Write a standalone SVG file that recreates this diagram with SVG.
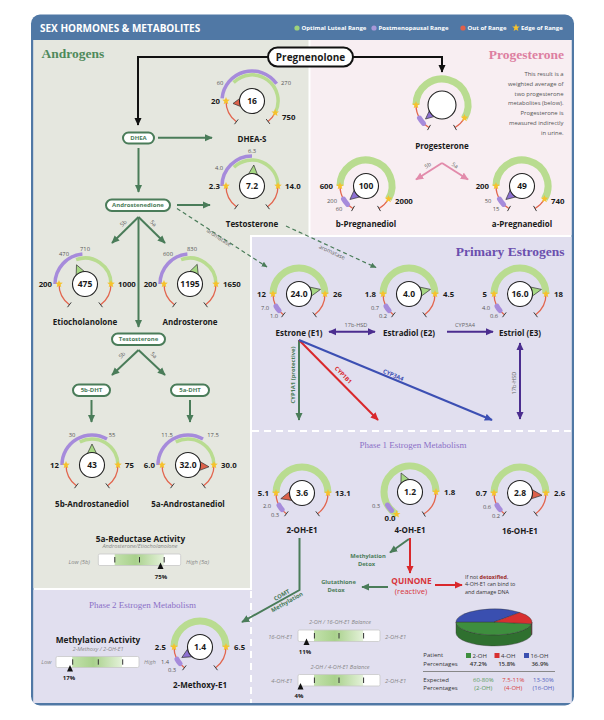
<svg xmlns="http://www.w3.org/2000/svg" width="604" height="720" viewBox="0 0 604 720">
<defs>
<style>
text{font-family:'Open Sans','Liberation Sans',sans-serif;fill:#1a1a1a}
.ttl{font-family:'Liberation Serif',serif;font-weight:bold}
.ph{font-family:'Liberation Serif',serif;font-size:9px;fill:#8b70c7;text-anchor:middle}
.g7{fill:none;stroke:#b9dc90;stroke-width:7}
.g4{fill:none;stroke:#b9dc90;stroke-width:3.5}
.p4{fill:none;stroke:#a68bdb;stroke-width:3.5}
.ps{fill:none;stroke:#a68bdb;stroke-width:5;stroke-linecap:round}
.rd{fill:none;stroke:#e2664f;stroke-width:1.3}
.tk{fill:none;stroke:#3a3a3a;stroke-width:1}
.vc{fill:#fff;stroke:#222;stroke-width:1.1}
.vt{font-size:8.5px;font-weight:bold;text-anchor:middle}
.nb{font-size:7.8px;font-weight:bold}
.e{text-anchor:end}
.ns{font-size:5.8px;fill:#555;text-anchor:middle}
.nm{font-size:8px;font-weight:bold;text-anchor:middle}
.tg{fill:#a6d883;stroke:#333;stroke-width:.7}
.tr{fill:#dc614a;stroke:#333;stroke-width:.7}
.tp{fill:#8d70d2;stroke:#333;stroke-width:.7}
.pill{fill:#fff;stroke:#4a7c59;stroke-width:2}
.pt{font-size:6px;font-weight:bold;fill:#4a7c59;text-anchor:middle}
.ck{fill:none;stroke:#111;stroke-width:2}
.cg{fill:none;stroke:#4a7c59;stroke-width:2}
.cd{fill:none;stroke:#4a7c59;stroke-width:1.2;stroke-dasharray:4,3}
.cp{fill:none;stroke:#e28bab;stroke-width:2}
.cv{fill:none;stroke:#4b2d8f;stroke-width:2}
.cr{fill:none;stroke:#d9282c;stroke-width:2}
.cb{fill:none;stroke:#3c4fb3;stroke-width:2}
.el{font-size:5.6px;fill:#666;text-anchor:middle}
.lb{font-size:5.8px;font-weight:bold;text-anchor:middle}
.bar{fill:url(#barg);stroke:#c8c8c8;stroke-width:.8}
.btk{stroke:#333;stroke-width:1}
.bt{font-size:8.3px;font-weight:bold;text-anchor:middle}
.bs{font-size:5.6px;font-style:italic;fill:#888;text-anchor:middle}
.bl{font-size:5.8px;font-style:italic;fill:#888}
.bp{font-size:6px;font-weight:bold;text-anchor:middle}
.lg{font-size:6px;font-weight:bold;fill:#fff}
.sm{font-size:6px;fill:#333}
</style>
<linearGradient id="barg" x1="0" x2="1" y1="0" y2="0">
<stop offset="0" stop-color="#fff"/><stop offset=".195" stop-color="#fff"/>
<stop offset=".2" stop-color="#c2e1ab"/><stop offset=".45" stop-color="#a9d18c"/>
<stop offset=".79" stop-color="#e3f1d8"/><stop offset=".8" stop-color="#fff"/><stop offset="1" stop-color="#fff"/>
</linearGradient>
<marker id="mk" viewBox="0 0 10 10" refX="9" refY="5" markerWidth="8" markerHeight="8" markerUnits="userSpaceOnUse" orient="auto-start-reverse"><path d="M0,0.5 L10,5 L0,9.5 Z" fill="#111"/></marker>
<marker id="mg" viewBox="0 0 10 10" refX="9" refY="5" markerWidth="8" markerHeight="8" markerUnits="userSpaceOnUse" orient="auto-start-reverse"><path d="M0,0.5 L10,5 L0,9.5 Z" fill="#4a7c59"/></marker>
<marker id="md" viewBox="0 0 10 10" refX="9" refY="5" markerWidth="6" markerHeight="6" markerUnits="userSpaceOnUse" orient="auto-start-reverse"><path d="M0,0.5 L10,5 L0,9.5 Z" fill="#4a7c59"/></marker>
<marker id="mp" viewBox="0 0 10 10" refX="9" refY="5" markerWidth="8" markerHeight="8" markerUnits="userSpaceOnUse" orient="auto-start-reverse"><path d="M0,0.5 L10,5 L0,9.5 Z" fill="#e28bab"/></marker>
<marker id="mv" viewBox="0 0 10 10" refX="9" refY="5" markerWidth="8" markerHeight="8" markerUnits="userSpaceOnUse" orient="auto-start-reverse"><path d="M0,0.5 L10,5 L0,9.5 Z" fill="#4b2d8f"/></marker>
<marker id="mr" viewBox="0 0 10 10" refX="9" refY="5" markerWidth="8" markerHeight="8" markerUnits="userSpaceOnUse" orient="auto-start-reverse"><path d="M0,0.5 L10,5 L0,9.5 Z" fill="#d9282c"/></marker>
<marker id="mb" viewBox="0 0 10 10" refX="9" refY="5" markerWidth="8" markerHeight="8" markerUnits="userSpaceOnUse" orient="auto-start-reverse"><path d="M0,0.5 L10,5 L0,9.5 Z" fill="#3c4fb3"/></marker>
<path id="star" d="M0,-4 L1,-1.38 L3.8,-1.24 L1.62,0.53 L2.35,3.24 L0,1.7 L-2.35,3.24 L-1.62,0.53 L-3.8,-1.24 L-1,-1.38 Z" fill="#f6c22c"/>
<g id="rS">
<path class="rd" d="M-26,0 A26,26 0 0 0 -15.6,20.8 M26,0 A26,26 0 0 1 15.6,20.8"/>
<path class="tk" d="M-13.8,18.4 L-17.5,23.2 M13.8,18.4 L17.5,23.2"/>
</g>
<g id="gE">
<path class="g7" d="M-26,0 A26,26 0 0 1 26,0"/>
<use href="#rS"/>
<path class="ps" d="M-23,12.2 A26,26 0 0 0 -19.9,16.7"/>
<use href="#star" x="-26" y="0"/><use href="#star" x="26" y="0"/>
</g>
<g id="gP">
<path class="g7" d="M-26,0 A26,26 0 1 1 22.5,13"/>
<path class="rd" d="M-26,0 A26,26 0 0 0 -13,22.5 M22.5,13 A26,26 0 0 1 13,22.5"/>
<path class="tk" d="M-11.5,19.9 L-14.5,25.1 M11.5,19.9 L14.5,25.1"/>
<path class="ps" d="M-22.5,13 A26,26 0 0 0 -18.4,18.4"/>
<use href="#star" x="-26" y="0"/><use href="#star" x="22.5" y="13"/>
</g>
</defs>

<!-- frame and panels -->
<rect x="31" y="14.5" width="543" height="691" rx="9" fill="#5078a5"/>
<rect x="33.5" y="40" width="538" height="663" fill="#fff"/>
<path fill="#e5e7df" d="M33.5,40 H308.5 V235 H250 V588 H33.5 Z"/>
<rect x="310.5" y="40" width="261" height="195" fill="#f8eef2"/>
<path fill="#e1dfef" d="M252,237 H571.5 V703 H33.5 V590 H252 Z"/>
<path d="M252,431 H571" stroke="#fff" stroke-width="2" stroke-dasharray="7,5" fill="none"/>
<path d="M251,591 V703" stroke="#fff" stroke-width="2" stroke-dasharray="7,5" fill="none"/>

<!-- header -->
<g id="header">
<text x="40" y="31.5" font-size="10" font-weight="bold" style="fill:#fff">SEX HORMONES &amp; METABOLITES</text>
<circle cx="297" cy="28" r="2.6" fill="#9fd27a"/><text class="lg" x="301.5" y="30.2">Optimal Luteal Range</text>
<circle cx="374" cy="28" r="2.6" fill="#a898d8"/><text class="lg" x="378.5" y="30.2">Postmenopausal Range</text>
<circle cx="463" cy="28" r="2.6" fill="#e0604a"/><text class="lg" x="467.5" y="30.2">Out of Range</text>
<use href="#star" x="516" y="27.8"/><text class="lg" x="521" y="30.2">Edge of Range</text>
</g>

<!-- section titles -->
<text class="ttl" x="41.5" y="58" font-size="13.5" style="fill:#4f8a5c">Androgens</text>
<text class="ttl" x="564" y="58.5" font-size="13.5" text-anchor="end" style="fill:#dd7fa1">Progesterone</text>
<text class="ttl" x="564.5" y="256" font-size="13.5" text-anchor="end" style="fill:#6b4fae">Primary Estrogens</text>
<text class="ph" x="413" y="447.5">Phase 1 Estrogen Metabolism</text>
<text class="ph" x="142.5" y="608">Phase 2 Estrogen Metabolism</text>

<g id="prog-note" font-size="5.9" text-anchor="end">
<text x="563.5" y="75.5" style="fill:#555">This result is a</text>
<text x="563.5" y="85.5" style="fill:#555">weighted average of</text>
<text x="563.5" y="95.5" style="fill:#555">two progesterone</text>
<text x="563.5" y="105" style="fill:#555">metabolites (below).</text>
<text x="563.5" y="115" style="fill:#555">Progesterone is</text>
<text x="563.5" y="125" style="fill:#555">measured indirectly</text>
<text x="563.5" y="135" style="fill:#555">in urine.</text>
</g>

<!-- connectors -->
<g id="connectors">
<path class="ck" d="M268,57 H138 V125" marker-end="url(#mk)"/>
<path class="ck" d="M353,57 H442 V72" marker-end="url(#mk)"/>
<path class="cg" d="M158,137.7 H212" marker-end="url(#mg)"/>
<path class="cg" d="M138.5,148 V192" marker-end="url(#mg)"/>
<path class="cg" d="M177,205 H210" marker-end="url(#mg)"/>
<path class="cg" d="M138.5,217 L112,243" marker-end="url(#mg)"/>
<path class="cg" d="M138.5,217 L165,243" marker-end="url(#mg)"/>
<path class="cg" d="M138.5,217 V327" marker-end="url(#mg)"/>
<path class="cg" d="M138.5,350 L112,375" marker-end="url(#mg)"/>
<path class="cg" d="M138.5,350 L165,375" marker-end="url(#mg)"/>
<path class="cg" d="M91.5,400 V422" marker-end="url(#mg)"/>
<path class="cg" d="M190,400 V422" marker-end="url(#mg)"/>
<path class="cd" d="M177,208.5 L267,267" marker-end="url(#md)"/>
<path class="cd" d="M286,226 L376,267.5" marker-end="url(#md)"/>
<path class="cp" d="M442,163 L416,179.5" marker-end="url(#mp)"/>
<path class="cp" d="M442,163 L468,179.5" marker-end="url(#mp)"/>
<path class="cv" d="M329,331.7 H375" marker-start="url(#mv)" marker-end="url(#mv)"/>
<path class="cv" d="M447,331.7 H493" marker-end="url(#mv)"/>
<path class="cv" d="M520,419 V343" marker-start="url(#mv)" marker-end="url(#mv)"/>
<path class="cg" d="M299,340 V420" marker-end="url(#mg)"/>
<path class="cr" d="M299,340 L378,420" marker-end="url(#mr)"/>
<path class="cb" d="M299,340 L492,420" marker-end="url(#mb)"/>
<path class="cg" d="M299.5,538 V590 L242,622" marker-end="url(#mg)"/>
<path class="cr" d="M410,538 V573" marker-end="url(#mr)"/>
<path class="cg" d="M409,539 L390,552.5" marker-end="url(#mg)"/>
<path class="cg" d="M388,587 H362" marker-end="url(#mg)"/>
<path class="cr" d="M435,585 H462" marker-end="url(#mr)"/>
<text class="el" transform="translate(123.3,223.3) rotate(-45)" y="2">5b</text>
<text class="el" transform="translate(153.5,223.3) rotate(45)" y="2">5a</text>
<text class="el" transform="translate(122,355) rotate(-45)" y="2">5b</text>
<text class="el" transform="translate(154,355) rotate(45)" y="2">5a</text>
<text class="el" transform="translate(427.7,165.3) rotate(-32)" y="2">5b</text>
<text class="el" transform="translate(455,165.3) rotate(32)" y="2">5a</text>
<text class="el" transform="translate(219,237.5) rotate(33)" y="2">aromatase</text>
<text class="el" transform="translate(332,252) rotate(25)" y="2">aromatase</text>
<text class="el" x="356" y="327">17b-HSD</text>
<text class="el" x="465" y="327">CYP3A4</text>
<text class="el" transform="translate(513.5,383) rotate(-90)" y="2">17b-HSD</text>
<text class="lb" transform="translate(292.5,375) rotate(-90)" y="2" font-size="5.5" style="fill:#4a7c59">CYP1A1 (protective)</text>
<text class="lb" transform="translate(343.3,375) rotate(45.4)" y="2" style="fill:#d9282c">CYP1B1</text>
<text class="lb" transform="translate(393.3,375) rotate(22.5)" y="2" style="fill:#3c4fb3">CYP3A4</text>
<text class="lb" transform="translate(281.7,595) rotate(-29.3)" y="2" style="fill:#4a7c59">COMT</text>
<text class="lb" transform="translate(287,602) rotate(-29.3)" y="2" style="fill:#4a7c59">Methylation</text>
</g>

<!-- nodes: pills -->
<g id="pregnenolone"><rect x="268" y="47.5" width="85" height="19" rx="9.5" fill="#fff" stroke="#111" stroke-width="2"/><text x="310.5" y="60.5" font-size="10" font-weight="bold" text-anchor="middle">Pregnenolone</text></g>
<g id="dhea"><rect class="pill" x="123" y="132.5" width="31" height="11" rx="5.5"/><text class="pt" x="138.5" y="140.2">DHEA</text></g>
<g id="androstenedione"><rect class="pill" x="106" y="199.5" width="64" height="11.5" rx="5.75"/><text class="pt" x="138" y="207.4">Androstenedione</text></g>
<g id="testosterone-pill"><rect class="pill" x="112" y="333.5" width="53" height="11.5" rx="5.75"/><text class="pt" x="138.5" y="341.3" font-size="5.5">Testosterone</text></g>
<g id="dht5b"><rect class="pill" x="73" y="384.5" width="37" height="11.5" rx="5.75"/><text class="pt" x="91.5" y="392.4">5b-DHT</text></g>
<g id="dht5a"><rect class="pill" x="171" y="384.5" width="38" height="11.5" rx="5.75"/><text class="pt" x="190" y="392.4">5a-DHT</text></g>

<!-- gauges -->
<g id="dheas" transform="translate(252,101)">
<path class="p4" d="M-29.9,-2.6 A30,30 0 0 1 24.6,-17.2"/>
<path class="g4" d="M-18.4,-18.4 A26,26 0 0 1 23.2,11.8"/>
<path class="rd" d="M-26,0 A26,26 0 0 0 -15.6,20.8 M23.2,11.8 A26,26 0 0 1 16,20.5"/>
<path class="tk" d="M-13.8,18.4 L-17.5,23.2 M14.2,18.1 L17.9,22.9"/>
<use href="#star" x="-26" y="0"/><use href="#star" x="23.2" y="11.8"/>
<polygon class="tr" points="-19,2.5 -6.7,7.4 -8.5,-5.3"/>
<circle class="vc" r="12.5"/><text class="vt" y="3">16</text>
<text class="ns" x="-32" y="-16">60</text><text class="ns" x="34" y="-16">270</text>
<text class="nb e" x="-32" y="3">20</text><text class="nb" x="30" y="19">750</text>
<text class="nm" y="41">DHEA-S</text>
</g>

<g id="testosterone" transform="translate(252,186)">
<path class="p4" d="M-30,0 A30,30 0 0 1 0,-30"/>
<path class="g4" d="M-18.1,-18.7 A26,26 0 0 1 26,0"/>
<use href="#rS"/>
<use href="#star" x="-26" y="0"/><use href="#star" x="26" y="0"/>
<polygon class="tg" points="1.8,-21 -5.7,-8.2 7.1,-7.1"/>
<circle class="vc" r="12.5"/><text class="vt" y="3">7.2</text>
<text class="ns" y="-33">6.3</text><text class="ns" x="-33" y="-16">4.0</text>
<text class="nb e" x="-32" y="3">2.3</text><text class="nb" x="33" y="3">14.0</text>
<text class="nm" y="41">Testosterone</text>
</g>

<g id="etiocholanolone" transform="translate(85,284)">
<path class="p4" d="M-30,0 A30,30 0 0 1 -2.6,-29.9"/>
<path class="g4" d="M-8.9,-24.4 A26,26 0 0 1 26,0"/>
<use href="#rS"/>
<use href="#star" x="-26" y="0"/><use href="#star" x="26" y="0"/>
<polygon class="tg" points="-8.5,-19.2 -9,-4.4 2.8,-9.6"/>
<circle class="vc" r="12.5"/><text class="vt" y="3">475</text>
<text class="ns" x="-21" y="-28">470</text><text class="ns" y="-33">710</text>
<text class="nb e" x="-33" y="3">200</text><text class="nb" x="33" y="3">1000</text>
<text class="nm" y="41">Etiocholanolone</text>
</g>

<g id="androsterone" transform="translate(190,284)">
<path class="p4" d="M-30,0 A30,30 0 0 1 -2.6,-29.9"/>
<path class="g4" d="M-8.9,-24.4 A26,26 0 0 1 26,0"/>
<use href="#rS"/>
<use href="#star" x="-26" y="0"/><use href="#star" x="26" y="0"/>
<polygon class="tg" points="7.2,-19.7 -3.4,-9.4 8.7,-5"/>
<circle class="vc" r="12.5"/><text class="vt" y="3">1195</text>
<text class="ns" x="-22" y="-28">600</text><text class="ns" x="2" y="-33">830</text>
<text class="nb e" x="-33" y="3">200</text><text class="nb" x="33" y="3">1650</text>
<text class="nm" y="41">Androsterone</text>
</g>

<g id="androstanediol5b" transform="translate(92,465)">
<path class="p4" d="M-30,0 A30,30 0 0 1 15,-26"/>
<path class="g4" d="M-12.2,-23 A26,26 0 0 1 26,0"/>
<use href="#rS"/>
<use href="#star" x="-26" y="0"/><use href="#star" x="26" y="0"/>
<polygon class="tg" points="0,-21 -6.4,-7.7 6.4,-7.7"/>
<circle class="vc" r="12.5"/><text class="vt" y="3">43</text>
<text class="ns" x="-20" y="-28">30</text><text class="ns" x="20" y="-28">55</text>
<text class="nb e" x="-33" y="3">12</text><text class="nb" x="33" y="3">75</text>
<text class="nm" y="42">5b-Androstanediol</text>
</g>

<g id="androstanediol5a" transform="translate(188,465)">
<path class="p4" d="M-30,0 A30,30 0 0 1 15,-26"/>
<path class="g4" d="M-12.2,-23 A26,26 0 0 1 26,0"/>
<use href="#rS"/>
<use href="#star" x="-26" y="0"/><use href="#star" x="26" y="0"/>
<polygon class="tr" points="21,1.8 8.2,-5.7 7.1,7.1"/>
<circle class="vc" r="12.5"/><text class="vt" y="3">32.0</text>
<text class="ns" x="-21" y="-28">11.5</text><text class="ns" x="25" y="-28">17.5</text>
<text class="nb e" x="-33" y="3">6.0</text><text class="nb" x="33" y="3">30.0</text>
<text class="nm" y="42">5a-Androstanediol</text>
</g>

<g id="progesterone" transform="translate(442,105)">
<use href="#gP"/>
<polygon class="tp" points="-16.5,14 -1.7,9.8 -10,0"/>
<circle class="vc" r="14"/>
<text class="nm" y="44">Progesterone</text>
</g>

<g id="bpregnanediol" transform="translate(366,186)">
<use href="#gP"/>
<polygon class="tp" points="-16.1,13.5 -1.7,9.8 -10,0"/>
<circle class="vc" r="12.5"/><text class="vt" y="3">100</text>
<text class="nb e" x="-33" y="3">600</text><text class="nb" x="29" y="18">2000</text>
<text class="ns" x="-34" y="16.5">200</text><text class="ns" x="-27" y="25">60</text>
<text class="nm" y="41">b-Pregnanediol</text>
</g>

<g id="apregnanediol" transform="translate(522,186)">
<use href="#gP"/>
<polygon class="tp" points="-16.1,13.5 -1.7,9.8 -10,0"/>
<circle class="vc" r="12.5"/><text class="vt" y="3">49</text>
<text class="nb e" x="-33" y="3">200</text><text class="nb" x="29" y="18">740</text>
<text class="ns" x="-34" y="16.5">50</text><text class="ns" x="-26" y="25">15</text>
<text class="nm" y="41">a-Pregnanediol</text>
</g>

<g id="estrone" transform="translate(299,294)">
<use href="#gE"/>
<polygon class="tg" points="21.5,-4.6 6.2,-7.9 8.8,4.7"/>
<circle class="vc" r="12.5"/><text class="vt" y="3">24.0</text>
<text class="nb e" x="-33" y="3">12</text><text class="nb" x="34" y="3">26</text>
<text class="ns" x="-34" y="15.5">7.0</text><text class="ns" x="-25" y="24">1.0</text>
<text class="nm" y="41.5">Estrone (E1)</text>
</g>

<g id="estradiol" transform="translate(409,294)">
<use href="#gE"/>
<polygon class="tg" points="21.5,-4.6 6.2,-7.9 8.8,4.7"/>
<circle class="vc" r="12.5"/><text class="vt" y="3">4.0</text>
<text class="nb e" x="-33" y="3">1.8</text><text class="nb" x="34" y="3">4.5</text>
<text class="ns" x="-34" y="15.5">0.7</text><text class="ns" x="-26" y="24">0.2</text>
<text class="nm" y="41.5">Estradiol (E2)</text>
</g>

<g id="estriol" transform="translate(520,294)">
<use href="#gE"/>
<polygon class="tg" points="21.5,-4.6 6.2,-7.9 8.8,4.7"/>
<circle class="vc" r="12.5"/><text class="vt" y="3">16.0</text>
<text class="nb e" x="-33" y="3">5</text><text class="nb" x="34" y="3">18</text>
<text class="ns" x="-34" y="15.5">4.0</text><text class="ns" x="-26" y="24">0.6</text>
<text class="nm" y="41.5">Estriol (E3)</text>
</g>

<g id="oh2e1" transform="translate(302,493)">
<use href="#gE"/>
<polygon class="tr" points="-21.2,5.7 -5.7,8.2 -9.1,-4.2"/>
<circle class="vc" r="12.5"/><text class="vt" y="3">3.6</text>
<text class="nb e" x="-33" y="3">5.1</text><text class="nb" x="33" y="3">13.1</text>
<text class="ns" x="-35" y="15">2.0</text><text class="ns" x="-27" y="24">0.3</text>
<text class="nm" y="40">2-OH-E1</text>
</g>

<g id="oh4e1" transform="translate(410,492)">
<path class="g7" d="M-13.4,22.3 A26,26 0 1 1 26,0"/>
<path class="rd" d="M26,0 A26,26 0 0 1 13.8,22"/>
<path class="tk" d="M12.2,19.5 L15.4,24.6"/>
<path class="ps" d="M-22.5,13 A26,26 0 0 0 -18.4,18.4"/>
<use href="#star" x="-13.4" y="22.3"/><use href="#star" x="26" y="0"/>
<polygon class="tg" points="-8.9,-19 -9.1,-4.2 2.6,-9.7"/>
<circle class="vc" r="12.5"/><text class="vt" y="3">1.2</text>
<text class="ns" x="-34" y="16">0.3</text><text class="nb" x="-20" y="29" text-anchor="middle">0.0</text>
<text class="nb" x="34" y="3">1.8</text>
<text class="nm" y="41">4-OH-E1</text>
</g>

<g id="oh16e1" transform="translate(520,493)">
<use href="#gE"/>
<polygon class="tr" points="22,2.3 8.3,-5.6 6.9,7.2"/>
<circle class="vc" r="12.5"/><text class="vt" y="3">2.8</text>
<text class="nb e" x="-33" y="3">0.7</text><text class="nb" x="34" y="3">2.6</text>
<text class="ns" x="-33" y="16">0.6</text><text class="ns" x="-24" y="25">0.2</text>
<text class="nm" y="40.5">16-OH-E1</text>
</g>

<g id="methoxy2e1" transform="translate(200,647)">
<use href="#gE"/>
<polygon class="tp" points="-18.2,10.5 -3.4,9.4 -9.8,-1.7"/>
<circle class="vc" r="12.5"/><text class="vt" y="3">1.4</text>
<text class="nb e" x="-34" y="3">2.5</text><text class="nb" x="34" y="3">6.5</text>
<text class="ns" x="-35" y="17">1.4</text><text class="ns" x="-28" y="25">0.3</text>
<text class="nm" y="41">2-Methoxy-E1</text>
</g>

<!-- phase 1 detox texts -->
<g id="detox">
<text class="lb" x="368" y="558" style="fill:#4a7c59">Methylation</text>
<text class="lb" x="366.5" y="566" style="fill:#4a7c59">Detox</text>
<text class="lb" x="338.5" y="584" style="fill:#4a7c59">Glutathione</text>
<text class="lb" x="336" y="591.5" style="fill:#4a7c59">Detox</text>
<text x="411.5" y="584" font-size="8.3" font-weight="bold" text-anchor="middle" style="fill:#d8343a">QUINONE</text>
<text x="411" y="594" font-size="7.6" text-anchor="middle" style="fill:#d8343a">(reactive)</text>
<text x="465" y="578.5" font-size="5.4" style="fill:#333">If not <tspan font-weight="bold" style="fill:#9a2a2a">detoxified</tspan>,</text>
<text x="465" y="586" font-size="5.4" style="fill:#333">4-OH-E1 can bind to</text>
<text x="465" y="593.5" font-size="5.4" style="fill:#333">and damage DNA</text>
</g>

<!-- bars -->
<g id="reductase">
<text class="bt" x="140.5" y="541.5">5a-Reductase Activity</text>
<text class="bs" x="140" y="548.4">Androsterone/Etiocholanolone</text>
<rect class="bar" x="98.3" y="554" width="82.4" height="11.5" rx="1.5"/>
<path class="btk" d="M114.8,557 V562.5 M139.5,557 V562.5 M164.2,557 V562.5"/>
<text class="bl e" x="90" y="563.5">Low (5b)</text>
<text class="bl" x="186" y="563.5">High (5a)</text>
<polygon points="160.5,562.5 157.5,569 163.5,569" fill="#111"/>
<text class="bp" x="161" y="578.5">75%</text>
</g>

<g id="methylation">
<text class="bt" x="98" y="643.3">Methylation Activity</text>
<text class="bs" x="98" y="650.8">2-Methoxy / 2-OH-E1</text>
<rect class="bar" x="56" y="656.5" width="83" height="11" rx="1.5"/>
<path class="btk" d="M72.7,659.3 V664.7 M98.3,659.3 V664.7 M122.7,659.3 V664.7"/>
<text class="bl e" x="51.5" y="664.3">Low</text>
<text class="bl" x="144" y="664.3">High</text>
<polygon points="70,665 67,671.5 73,671.5" fill="#111"/>
<text class="bp" x="69" y="679.5">17%</text>
</g>

<g id="balance16">
<text class="bs" x="340" y="624">2-OH / 16-OH-E1 Balance</text>
<rect class="bar" x="298" y="630" width="82" height="11.5" rx="1.5"/>
<path class="btk" d="M314.4,633 V638.5 M339,633 V638.5 M363.6,633 V638.5"/>
<text class="bl e" x="292.5" y="638.5">16-OH-E1</text>
<text class="bl" x="385" y="638.5">2-OH-E1</text>
<polygon points="306.5,638.5 303.5,645 309.5,645" fill="#111"/>
<text class="bp" x="305" y="654">11%</text>
</g>

<g id="balance4">
<text class="bs" x="340" y="668.7">2-OH / 4-OH-E1 Balance</text>
<rect class="bar" x="298" y="674.5" width="82" height="11.5" rx="1.5"/>
<path class="btk" d="M314.4,677.5 V683 M339,677.5 V683 M363.6,677.5 V683"/>
<text class="bl e" x="292.5" y="683">4-OH-E1</text>
<text class="bl" x="385" y="683">2-OH-E1</text>
<polygon points="300.5,683 297.5,689.5 303.5,689.5" fill="#111"/>
<text class="bp" x="299" y="698">4%</text>
</g>

<!-- pie -->
<g id="pie" stroke="#333" stroke-width=".4">
<path fill="#2f702f" d="M531.6,623.8 A38,13 0 0 1 456,622 L456,633 A38,13 0 0 0 531.6,634.8 Z"/>
<path fill="#a32222" d="M532,622 A38,13 0 0 1 531.6,623.8 L531.6,634.8 A38,13 0 0 0 532,633 Z"/>
<path fill="#3e8e3e" d="M494,622 L531.6,623.8 A38,13 0 0 1 456,622 Z"/>
<path fill="#3a4fb0" d="M494,622 L456,622 A38,13 0 0 1 519.9,612.5 Z"/>
<path fill="#d83030" d="M494,622 L519.9,612.5 A38,13 0 0 1 531.6,623.8 Z"/>
</g>

<g id="pie-legend">
<text class="sm" x="423.3" y="657">Patient</text>
<text class="sm" x="423.3" y="665.5">Percentages</text>
<rect x="466" y="653" width="5" height="5" fill="#3e8e3e"/><text class="sm" x="472.5" y="657.8">2-OH</text>
<rect x="494.5" y="653" width="5" height="5" fill="#d83030"/><text class="sm" x="501" y="657.8">4-OH</text>
<rect x="524" y="653" width="5" height="5" fill="#3a4fb0"/><text class="sm" x="530.5" y="657.8">16-OH</text>
<text class="sm" x="478.3" y="665.5" text-anchor="middle" font-weight="600">47.2%</text>
<text class="sm" x="506.7" y="665.5" text-anchor="middle" font-weight="600">15.8%</text>
<text class="sm" x="540" y="665.5" text-anchor="middle" font-weight="600">36.9%</text>
<path d="M423,671.5 H555" stroke="#888" stroke-width="1"/>
<text class="sm" x="423.3" y="681.5">Expected</text>
<text class="sm" x="423.3" y="689.5">Percentages</text>
<text class="sm" x="483.3" y="681.5" text-anchor="middle" style="fill:#5a9a5a">60-80%</text>
<text class="sm" x="483.3" y="689.5" text-anchor="middle" style="fill:#5a9a5a">(2-OH)</text>
<text class="sm" x="513.3" y="681.5" text-anchor="middle" style="fill:#d84040">7.5-11%</text>
<text class="sm" x="513.3" y="689.5" text-anchor="middle" style="fill:#d84040">(4-OH)</text>
<text class="sm" x="543.3" y="681.5" text-anchor="middle" style="fill:#5060c0">13-30%</text>
<text class="sm" x="543.3" y="689.5" text-anchor="middle" style="fill:#5060c0">(16-OH)</text>
</g>
</svg>
